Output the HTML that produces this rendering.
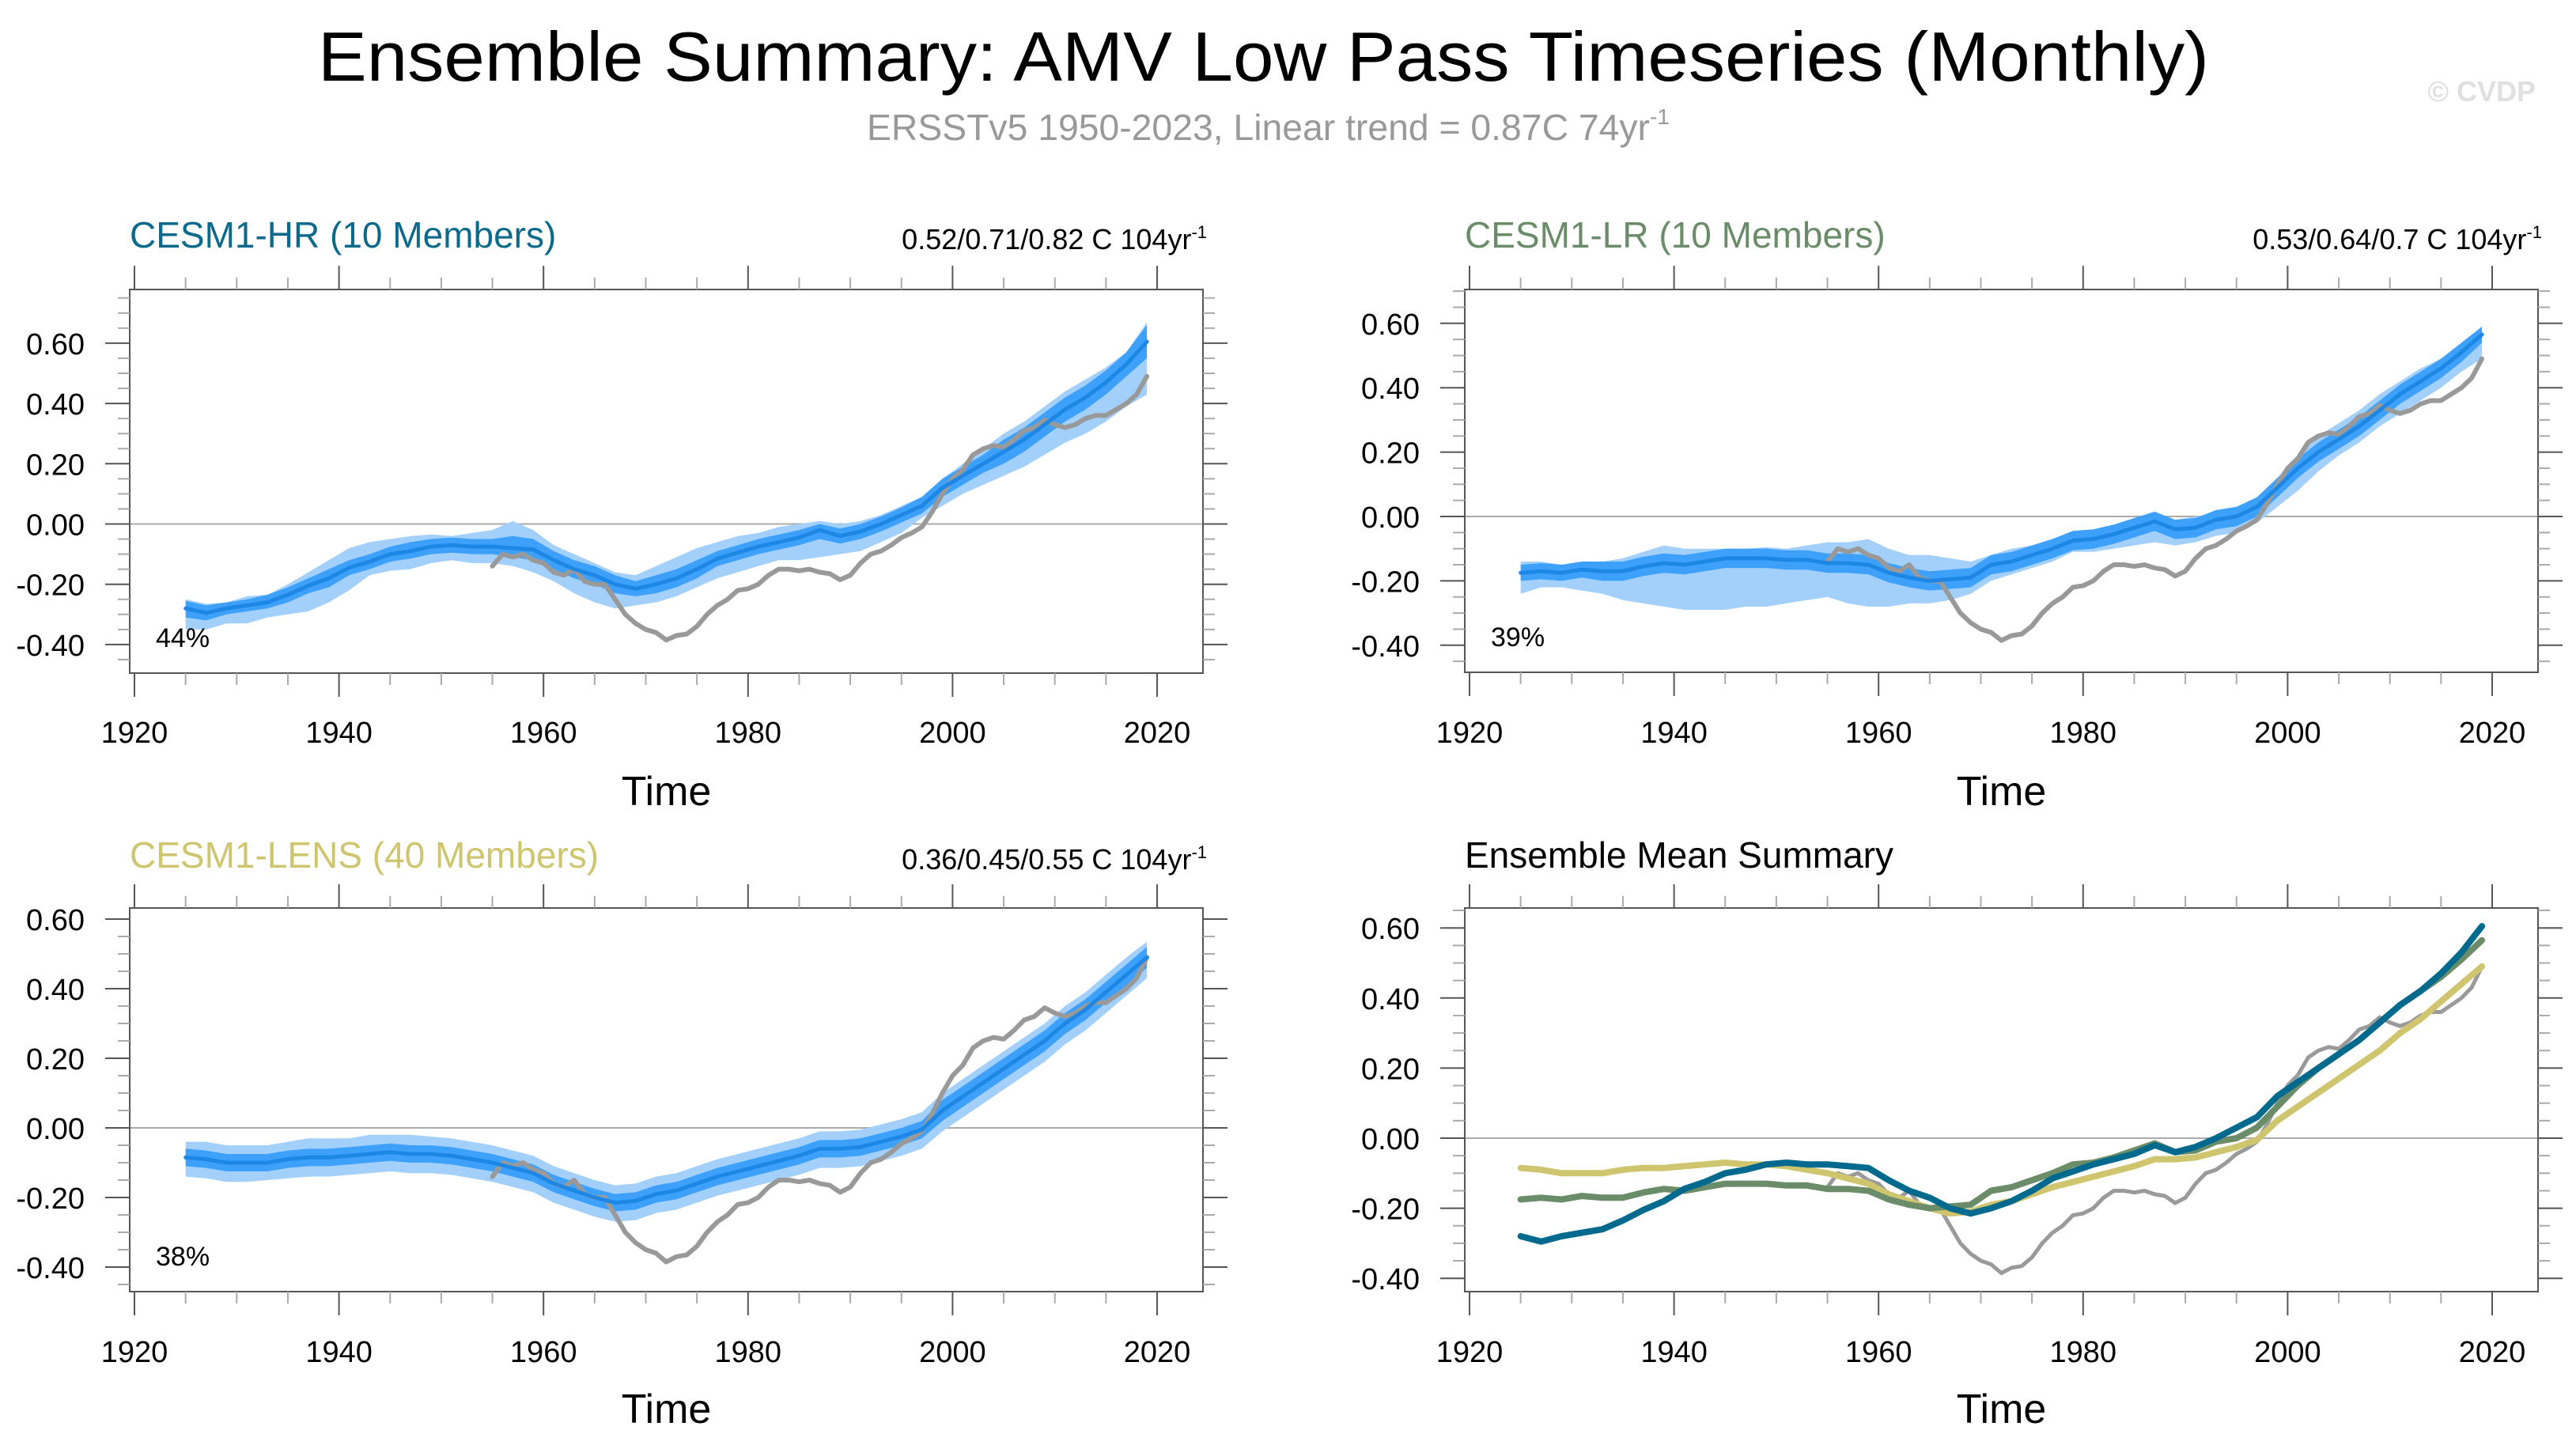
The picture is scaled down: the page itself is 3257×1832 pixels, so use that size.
<!DOCTYPE html>
<html><head><meta charset="utf-8"><style>
html,body{margin:0;padding:0;background:#fff}
svg{display:block;font-family:"Liberation Sans",Arial,sans-serif}
</style></head><body>
<svg id="chart" xmlns="http://www.w3.org/2000/svg" width="3257" height="1832" viewBox="0 0 3257 1832">
<rect width="3257" height="1832" fill="#fff"/>
<text x="402" y="102" font-size="88" textLength="2391" lengthAdjust="spacingAndGlyphs" fill="#000">Ensemble Summary: AMV Low Pass Timeseries (Monthly)</text>
<text x="1096" y="177" font-size="46" fill="#999"><tspan textLength="990" lengthAdjust="spacingAndGlyphs">ERSSTv5 1950-2023, Linear trend = 0.87C 74yr</tspan><tspan font-size="28" dy="-20">-1</tspan></text>
<text x="3206" y="128" font-size="36" font-weight="bold" text-anchor="end" fill="#e0e0e0">© CVDP</text>
<g id="panels"></g>
</svg>
<script>
const years=[1925,1927,1929,1931,1933,1935,1937,1939,1941,1943,1945,1947,1949,1951,1953,1955,1957,1959,1961,1963,1965,1967,1969,1971,1973,1975,1977,1979,1981,1983,1985,1987,1989,1991,1993,1995,1997,1999,2001,2003,2005,2007,2009,2011,2013,2015,2017,2019];

const hrMean=[-0.28,-0.295,-0.28,-0.27,-0.26,-0.235,-0.205,-0.18,-0.145,-0.125,-0.10,-0.09,-0.075,-0.07,-0.075,-0.075,-0.08,-0.085,-0.12,-0.15,-0.17,-0.20,-0.215,-0.20,-0.18,-0.15,-0.115,-0.095,-0.075,-0.06,-0.045,-0.02,-0.04,-0.025,0.0,0.03,0.06,0.12,0.16,0.20,0.24,0.28,0.33,0.38,0.42,0.47,0.53,0.605];
const hrInnerHi=[-0.255,-0.27,-0.26,-0.25,-0.235,-0.21,-0.18,-0.15,-0.12,-0.10,-0.075,-0.06,-0.05,-0.045,-0.05,-0.05,-0.04,-0.05,-0.09,-0.12,-0.14,-0.17,-0.19,-0.17,-0.15,-0.12,-0.09,-0.07,-0.05,-0.035,-0.02,0.0,-0.015,0.0,0.025,0.055,0.09,0.15,0.19,0.23,0.28,0.32,0.37,0.42,0.46,0.51,0.57,0.66];
const hrInnerLo=[-0.31,-0.32,-0.30,-0.29,-0.28,-0.26,-0.23,-0.21,-0.17,-0.15,-0.125,-0.115,-0.10,-0.095,-0.10,-0.10,-0.11,-0.12,-0.15,-0.18,-0.20,-0.23,-0.24,-0.23,-0.21,-0.18,-0.14,-0.12,-0.10,-0.085,-0.07,-0.05,-0.065,-0.05,-0.025,0.005,0.035,0.09,0.13,0.17,0.20,0.24,0.29,0.34,0.38,0.43,0.49,0.55];
const hrOuterHi=[-0.25,-0.265,-0.26,-0.24,-0.235,-0.20,-0.16,-0.12,-0.08,-0.06,-0.05,-0.04,-0.035,-0.04,-0.03,-0.02,0.01,-0.02,-0.07,-0.10,-0.13,-0.16,-0.17,-0.14,-0.11,-0.08,-0.06,-0.04,-0.03,-0.01,0.0,0.01,0.0,0.01,0.03,0.06,0.09,0.15,0.20,0.25,0.30,0.34,0.39,0.44,0.48,0.52,0.57,0.67];
const hrOuterLo=[-0.35,-0.35,-0.33,-0.33,-0.31,-0.30,-0.29,-0.26,-0.22,-0.17,-0.155,-0.15,-0.13,-0.12,-0.13,-0.13,-0.14,-0.16,-0.19,-0.23,-0.26,-0.28,-0.27,-0.26,-0.24,-0.21,-0.18,-0.16,-0.14,-0.12,-0.12,-0.11,-0.10,-0.09,-0.06,-0.03,0.02,0.06,0.10,0.13,0.16,0.19,0.23,0.27,0.30,0.34,0.39,0.43];

const lrMean=[-0.175,-0.17,-0.175,-0.165,-0.17,-0.17,-0.155,-0.145,-0.15,-0.14,-0.13,-0.13,-0.13,-0.135,-0.135,-0.145,-0.145,-0.15,-0.175,-0.19,-0.20,-0.195,-0.19,-0.15,-0.14,-0.12,-0.10,-0.075,-0.07,-0.055,-0.035,-0.015,-0.04,-0.035,-0.01,0.0,0.03,0.09,0.15,0.20,0.24,0.28,0.33,0.38,0.42,0.46,0.51,0.565];
const lrInnerHi=[-0.15,-0.145,-0.15,-0.14,-0.14,-0.14,-0.125,-0.115,-0.12,-0.11,-0.10,-0.10,-0.10,-0.105,-0.105,-0.115,-0.115,-0.12,-0.145,-0.16,-0.17,-0.165,-0.16,-0.12,-0.11,-0.09,-0.07,-0.045,-0.04,-0.025,-0.005,0.015,-0.01,-0.005,0.02,0.03,0.06,0.12,0.18,0.23,0.27,0.31,0.36,0.41,0.45,0.49,0.54,0.59];
const lrInnerLo=[-0.20,-0.195,-0.20,-0.19,-0.20,-0.20,-0.185,-0.175,-0.18,-0.17,-0.16,-0.16,-0.16,-0.165,-0.165,-0.175,-0.175,-0.18,-0.205,-0.22,-0.23,-0.225,-0.22,-0.18,-0.17,-0.15,-0.13,-0.105,-0.10,-0.085,-0.065,-0.045,-0.07,-0.065,-0.04,-0.03,0.0,0.06,0.12,0.17,0.21,0.25,0.30,0.35,0.39,0.43,0.48,0.54];
const lrOuterHi=[-0.14,-0.14,-0.15,-0.14,-0.14,-0.13,-0.11,-0.09,-0.10,-0.10,-0.10,-0.10,-0.095,-0.10,-0.09,-0.08,-0.08,-0.07,-0.10,-0.12,-0.12,-0.13,-0.14,-0.12,-0.10,-0.09,-0.07,-0.06,-0.05,-0.04,-0.02,0.0,-0.01,0.0,0.01,0.02,0.06,0.12,0.19,0.25,0.29,0.33,0.38,0.42,0.46,0.49,0.53,0.58];
const lrOuterLo=[-0.24,-0.22,-0.22,-0.23,-0.24,-0.26,-0.27,-0.28,-0.29,-0.29,-0.29,-0.28,-0.28,-0.27,-0.26,-0.25,-0.27,-0.28,-0.28,-0.27,-0.27,-0.26,-0.24,-0.20,-0.18,-0.16,-0.14,-0.11,-0.11,-0.10,-0.09,-0.08,-0.09,-0.08,-0.06,-0.05,-0.02,0.03,0.08,0.14,0.19,0.23,0.28,0.32,0.36,0.40,0.45,0.49];

const lensMean=[-0.085,-0.09,-0.10,-0.10,-0.10,-0.09,-0.085,-0.085,-0.08,-0.075,-0.07,-0.075,-0.075,-0.08,-0.09,-0.10,-0.115,-0.13,-0.16,-0.18,-0.20,-0.215,-0.21,-0.19,-0.18,-0.16,-0.14,-0.125,-0.11,-0.095,-0.08,-0.06,-0.06,-0.055,-0.04,-0.025,-0.005,0.05,0.09,0.13,0.17,0.21,0.25,0.30,0.34,0.39,0.44,0.49];
const lensInnerHi=[-0.06,-0.065,-0.075,-0.075,-0.075,-0.065,-0.06,-0.06,-0.055,-0.05,-0.045,-0.05,-0.05,-0.055,-0.065,-0.075,-0.09,-0.105,-0.135,-0.155,-0.175,-0.19,-0.185,-0.165,-0.155,-0.135,-0.115,-0.10,-0.085,-0.07,-0.055,-0.035,-0.035,-0.03,-0.015,0.0,0.02,0.08,0.12,0.16,0.20,0.24,0.28,0.33,0.37,0.42,0.47,0.52];
const lensInnerLo=[-0.11,-0.115,-0.125,-0.125,-0.125,-0.115,-0.11,-0.11,-0.105,-0.10,-0.095,-0.10,-0.10,-0.105,-0.115,-0.125,-0.14,-0.155,-0.185,-0.205,-0.225,-0.24,-0.235,-0.215,-0.205,-0.185,-0.165,-0.15,-0.135,-0.12,-0.105,-0.085,-0.085,-0.08,-0.065,-0.05,-0.03,0.02,0.06,0.10,0.14,0.18,0.22,0.27,0.31,0.36,0.41,0.46];
const lensOuterHi=[-0.04,-0.04,-0.05,-0.05,-0.05,-0.04,-0.03,-0.03,-0.03,-0.02,-0.02,-0.02,-0.025,-0.03,-0.04,-0.05,-0.065,-0.08,-0.11,-0.13,-0.15,-0.165,-0.16,-0.14,-0.13,-0.11,-0.09,-0.075,-0.06,-0.045,-0.03,-0.01,-0.01,-0.005,0.01,0.025,0.045,0.10,0.14,0.18,0.22,0.26,0.30,0.35,0.39,0.44,0.49,0.535];
const lensOuterLo=[-0.14,-0.145,-0.155,-0.155,-0.15,-0.145,-0.14,-0.14,-0.135,-0.13,-0.125,-0.13,-0.13,-0.135,-0.145,-0.155,-0.17,-0.185,-0.215,-0.235,-0.255,-0.27,-0.265,-0.245,-0.235,-0.215,-0.195,-0.18,-0.165,-0.15,-0.135,-0.115,-0.115,-0.11,-0.095,-0.08,-0.06,-0.01,0.03,0.07,0.11,0.15,0.19,0.24,0.28,0.33,0.38,0.43];

const obsYears=[1955,1956,1957,1958,1959,1960,1961,1962,1963,1964,1965,1966,1967,1968,1969,1970,1971,1972,1973,1974,1975,1976,1977,1978,1979,1980,1981,1982,1983,1984,1985,1986,1987,1988,1989,1990,1991,1992,1993,1994,1995,1996,1997,1998,1999,2000,2001,2002,2003,2004,2005,2006,2007,2008,2009,2010,2011,2012,2013,2014,2015,2016,2017,2018,2019];
const obsValues=[-0.14,-0.10,-0.11,-0.10,-0.12,-0.13,-0.16,-0.17,-0.15,-0.19,-0.20,-0.20,-0.25,-0.30,-0.33,-0.35,-0.36,-0.385,-0.37,-0.365,-0.34,-0.30,-0.27,-0.25,-0.22,-0.215,-0.20,-0.17,-0.15,-0.15,-0.155,-0.15,-0.16,-0.165,-0.185,-0.17,-0.13,-0.10,-0.09,-0.07,-0.045,-0.03,-0.01,0.04,0.10,0.15,0.18,0.23,0.25,0.26,0.255,0.28,0.31,0.32,0.345,0.33,0.32,0.33,0.35,0.36,0.36,0.38,0.40,0.43,0.49];

const yTickLabels=["-0.40","-0.20","0.00","0.20","0.40","0.60"];
const xTickLabels=["1920","1940","1960","1980","2000","2020"];
const panelTitles=["CESM1-HR (10 Members)","CESM1-LR (10 Members)","CESM1-LENS (40 Members)","Ensemble Mean Summary"];
const trendTexts=["0.52/0.71/0.82 C 104yr","0.53/0.64/0.7 C 104yr","0.36/0.45/0.55 C 104yr",""];
const pctLabels=["44%","39%","38%",""];

const NS="http://www.w3.org/2000/svg";
const root=document.getElementById('panels');
function mk(tag,attrs,parent){const e=document.createElementNS(NS,tag);for(const k in attrs)e.setAttribute(k,attrs[k]);(parent||root).appendChild(e);return e;}

const layouts=[
 {L:164,R:1521,T:366,B:851,zero:662.5,ppu:381,titleY:313,xlabY:939,timeY:1018,color:"#0b6a8c",key:"hr"},
 {L:1852,R:3209,T:366,B:850,zero:653,ppu:407,titleY:313,xlabY:939,timeY:1018,color:"#6a8c68",key:"lr"},
 {L:164,R:1521,T:1148,B:1633,zero:1426,ppu:440,titleY:1097,xlabY:1722,timeY:1799,color:"#cfc56f",key:"lens"},
 {L:1852,R:3209,T:1148,B:1633,zero:1439,ppu:443,titleY:1097,xlabY:1722,timeY:1799,color:"#000",key:"summary"}
];
const bandData={
 hr:[hrMean,hrInnerLo,hrInnerHi,hrOuterLo,hrOuterHi],
 lr:[lrMean,lrInnerLo,lrInnerHi,lrOuterLo,lrOuterHi],
 lens:[lensMean,lensInnerLo,lensInnerHi,lensOuterLo,lensOuterHi]
};

layouts.forEach((p,i)=>{
 const g=mk('g',{});
 
 
 const xs=y=>p.L+6+(y-1920)*12.93;
 const ys=v=>p.zero-v*p.ppu;
 const vmax=(p.zero-p.T)/p.ppu, vmin=(p.zero-p.B)/p.ppu;
 const clip='clip'+i;
 const cp=mk('clipPath',{id:clip},g);mk('rect',{x:p.L,y:p.T,width:p.R-p.L,height:p.B-p.T},cp);
 const zl=mk('line',{x1:p.L,x2:p.R,y1:ys(0),y2:ys(0),stroke:"#aaa","stroke-width":2},g);
 
 
 const plot=mk('g',{'clip-path':'url(#'+clip+')'},g);
 const line=(xv,yv,col,w,name)=>{const d=xv.map((x,k)=>(k?'L':'M')+xs(x).toFixed(1)+' '+ys(yv[k]).toFixed(1)).join('');
  const e=mk('path',{d:d,fill:'none',stroke:col,'stroke-width':w,'stroke-linejoin':'round','stroke-linecap':'round'},plot);
  
  return e;};
 const band=(lo,hi,col,name)=>{let d=years.map((x,k)=>(k?'L':'M')+xs(x).toFixed(1)+' '+ys(hi[k]).toFixed(1)).join('');
  for(let k=years.length-1;k>=0;k--)d+='L'+xs(years[k]).toFixed(1)+' '+ys(lo[k]).toFixed(1);
  const e=mk('path',{d:d+'Z',fill:col,stroke:'none'},plot);
  
  };
 if(bandData[p.key]){
  const [m,il,ih,ol,oh]=bandData[p.key];
  band(ol,oh,'#a2d0fb','outer-spread-band');
  band(il,ih,'#3da0fb','inner-spread-band');
  line(obsYears,obsValues,'#999',6,'observed-line');
  line(years,m,'#1d87e5',5,'ensemble-mean-line');
 } else {
  line(obsYears,obsValues,'#9a9a9a',5,'observed-line');
  line(years,lensMean,'#cfc56f',8,'lens-mean-line');
  line(years,lrMean,'#6a8c68',8,'lr-mean-line');
  line(years,hrMean,'#006a8e',8,'hr-mean-line');
 }
 const bx=mk('rect',{x:p.L,y:p.T,width:p.R-p.L,height:p.B-p.T,fill:'none',stroke:'#555','stroke-width':2},g);
 
 
 for(let v=-0.5;v<=0.8001;v+=0.05){
  const vv=Math.round(v*100)/100;if(vv<vmin-0.001||vv>vmax+0.001)continue;
  const major=Math.abs(Math.round(vv*100)%20)===0;const len=major?31:15;const y=ys(vv);
  mk('line',{x1:p.L-len,x2:p.L,y1:y,y2:y,stroke:major?'#555':'#aaa','stroke-width':2},g);
  mk('line',{x1:p.R,x2:p.R+len,y1:y,y2:y,stroke:major?'#555':'#aaa','stroke-width':2},g);
 }
 yTickLabels.forEach(s=>{const v=parseFloat(s);const t=mk('text',{x:p.L-57,y:ys(v)+14,'font-size':38,'text-anchor':'end',fill:'#000'},g);t.textContent=s;
  
  });
 for(let yr=1920;yr<=2020;yr+=5){const major=yr%20===0;const len=major?30:15;const x=xs(yr);
  mk('line',{x1:x,x2:x,y1:p.T-len,y2:p.T,stroke:major?'#555':'#aaa','stroke-width':2},g);
  mk('line',{x1:x,x2:x,y1:p.B,y2:p.B+len,stroke:major?'#555':'#aaa','stroke-width':2},g);}
 xTickLabels.forEach(s=>{const t=mk('text',{x:xs(+s),y:p.xlabY,'font-size':38,'text-anchor':'middle',fill:'#000'},g);t.textContent=s;
  
  });
 const tm=mk('text',{x:(p.L+p.R)/2,y:p.timeY,'font-size':52,'text-anchor':'middle',fill:'#000'},g);tm.textContent='Time';
 
 
 const tt=mk('text',{x:p.L,y:p.titleY,'font-size':46,fill:p.color},g);tt.textContent=panelTitles[i];
 
 
 if(trendTexts[i]){const tr=mk('text',{x:p.R+5,y:p.titleY+2,'font-size':36,'text-anchor':'end',fill:'#000'},g);
  const a=mk('tspan',{},tr);a.textContent=trendTexts[i];
  const b=mk('tspan',{'font-size':22,dy:-14},tr);b.textContent='-1';
  
  }
 if(pctLabels[i]){const pc=mk('text',{x:p.L+33,y:p.B-33,'font-size':34,fill:'#000'},g);pc.textContent=pctLabels[i];
  
  }
});
</script>
</body></html>
